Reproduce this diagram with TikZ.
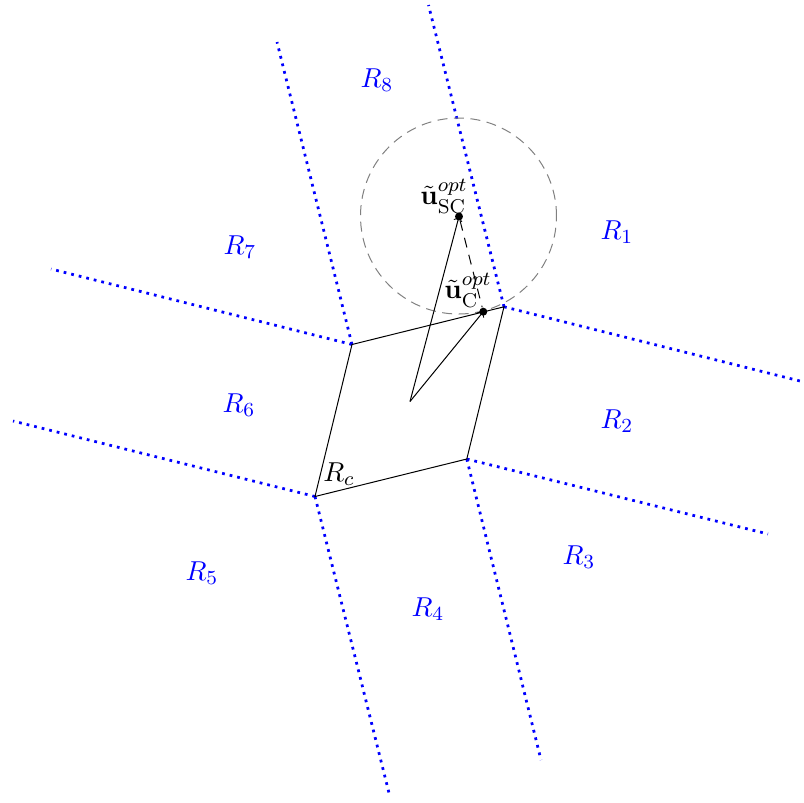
\documentclass[tikz,border=0pt]{standalone}
\usepackage{amsmath}
\begin{document}
\begin{tikzpicture}[x=0.4pt,y=-0.4pt,
  every node/.style={font=\fontsize{11}{13}\selectfont},
  region/.style={blue,dotted,line width=1.1pt},
  rlabel/.style={text=blue,inner sep=0pt},
  box/.style={draw=black,thin},
  vec/.style={->,thin},
  ptdot/.style={circle,fill=black,inner sep=0pt,minimum size=3.2pt}]
\useasboundingbox (0,0) rectangle (803,803);
% rhombus vertices
\coordinate (A) at (352,344.5);
\coordinate (B) at (504,306.8);
\coordinate (C) at (466.8,459);
\coordinate (D) at (315,496.5);
\coordinate (O) at (410,401.5);
% far ends of region boundaries
\coordinate (Au) at (277,42);
\coordinate (Al) at (51,269);
\coordinate (Bu) at (428.5,5);
\coordinate (Br) at (800,381);
\coordinate (Cr) at (768,534);
\coordinate (Cd) at (541,760);
\coordinate (Dd) at (390,797);
\coordinate (Dl) at (13,421);
\draw[region] (A) -- (Au);
\draw[region] (A) -- (Al);
\draw[region] (B) -- (Bu);
\draw[region] (B) -- (Br);
\draw[region] (C) -- (Cr);
\draw[region] (C) -- (Cd);
\draw[region] (D) -- (Dd);
\draw[region] (D) -- (Dl);
% circle
\node[draw=gray,dash pattern=on 4pt off 2.6pt,circle,minimum size=78.4pt,inner sep=0pt] (circ) at (458.5,216) {};
% rhombus
\draw[box] (A) -- (B) -- (C) -- (D) -- cycle;
% points
\node[ptdot] (usc) at (459,216.5) {};
\node[ptdot] (uc) at (483.3,311.7) {};
\draw[vec] (O) -- (usc.center);
\draw[vec] (O) -- (uc.center);
\draw[dash pattern=on 4pt off 3pt,thin] (usc) -- (uc);
% labels
\node (lsc) at (444,196) {$\tilde{\mathbf{u}}^{opt}_{\mathrm{SC}}$};
\node (lc) at (468,290) {$\tilde{\mathbf{u}}^{opt}_{\mathrm{C}}$};
\node (lrc) at (339,474) {$R_c$};
\node[rlabel] (r8) at (377,80) {$R_8$};
\node[rlabel] (r1) at (617,232) {$R_1$};
\node[rlabel] (r7) at (240,247) {$R_7$};
\node[rlabel] (r6) at (239,405) {$R_6$};
\node[rlabel] (r2) at (617,421) {$R_2$};
\node[rlabel] (r3) at (579,557) {$R_3$};
\node[rlabel] (r5) at (202,573) {$R_5$};
\node[rlabel] (r4) at (428,609) {$R_4$};
\end{tikzpicture}
\end{document}
